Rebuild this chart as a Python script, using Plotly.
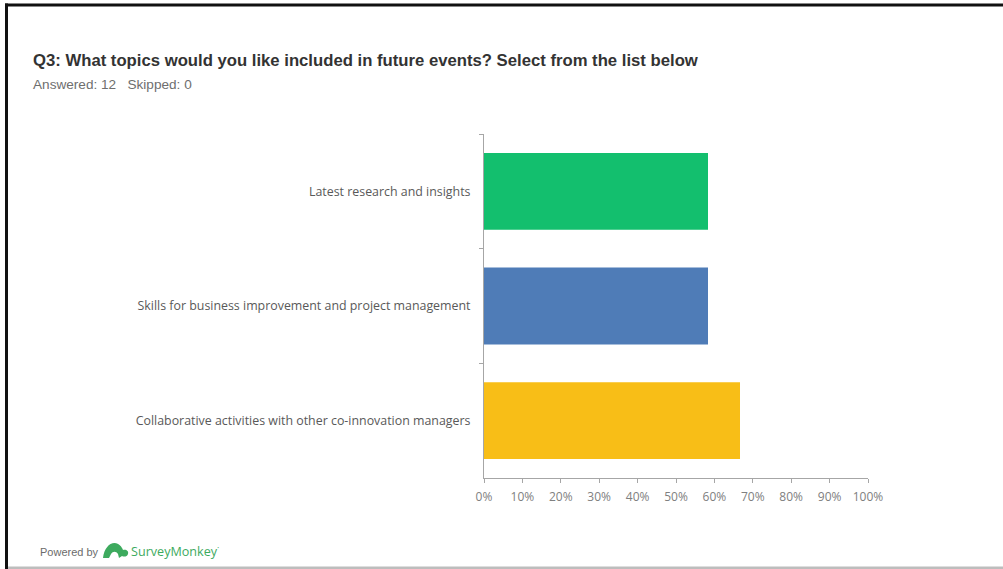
import plotly.graph_objects as go

# Survey question Q3 results
categories = [
    "Latest research and insights",
    "Skills for business improvement and project management",
    "Collaborative activities with other co-innovation managers",
]
responses = [7, 7, 8]
answered = 12
skipped = 0
bar_colors = ["#13BF6E", "#4F7CB7", "#F8BE17"]
x_ticks = [0, 10, 20, 30, 40, 50, 60, 70, 80, 90, 100]
x_tick_labels = [f"{v}%" for v in x_ticks]

percentages = [r / answered * 100 for r in responses]

W, H = 1003, 569
L, R, T, B = 484, 135, 134, 91
PW, PH = W - L - R, H - T - B


def px(x):
    return (x - L) / PW


def py(y):
    return (H - B - y) / PH


fig = go.Figure(
    go.Bar(
        x=percentages,
        y=categories,
        orientation="h",
        marker=dict(color=bar_colors, line=dict(width=0)),
        hoverinfo="x+y",
    )
)

fig.update_layout(
    width=W,
    height=H,
    margin=dict(l=L, r=R, t=T, b=B, pad=0),
    paper_bgcolor="white",
    plot_bgcolor="white",
    bargap=0.33,
    showlegend=False,
    xaxis=dict(
        range=[0, 100],
        tickmode="array",
        tickvals=x_ticks,
        ticktext=x_tick_labels,
        showgrid=False,
        zeroline=False,
        showline=True,
        linecolor="#A6A6A6",
        linewidth=1,
        ticks="outside",
        ticklen=4,
        tickcolor="#A6A6A6",
        tickfont=dict(family="Open Sans", size=12, color="#808080"),
        ticklabelstandoff=4,
        fixedrange=True,
    ),
    yaxis=dict(
        autorange="reversed",
        showgrid=False,
        zeroline=False,
        showline=True,
        linecolor="#A6A6A6",
        linewidth=1,
        ticks="outside",
        tickson="boundaries",
        ticklen=4,
        tickcolor="#A6A6A6",
        tickfont=dict(family="Open Sans", size=12.4, color="#595959"),
        ticklabelstandoff=10,
        fixedrange=True,
    ),
)

annotations = [
    dict(
        text="<b>Q3: What topics would you like included in future events? Select from the list below</b>",
        x=px(31), y=py(60), xanchor="left", yanchor="middle",
        font=dict(family="Liberation Sans", size=16.7, color="#333333"),
    ),
    dict(
        text=f"Answered: {answered}   Skipped: {skipped}",
        x=px(31), y=py(85), xanchor="left", yanchor="middle",
        font=dict(family="Liberation Sans", size=13.6, color="#6E6E6E"),
    ),
    dict(
        text="Powered by",
        x=px(38), y=py(552), xanchor="left", yanchor="middle",
        font=dict(family="Liberation Sans", size=11, color="#6B6B6B"),
    ),
    dict(
        text="SurveyMonkey<sup>·</sup>",
        x=px(129), y=py(551), xanchor="left", yanchor="middle",
        font=dict(family="Open Sans", size=12.6, color="#3DAA5E"),
    ),
]
for a in annotations:
    a.update(xref="paper", yref="paper", showarrow=False)
fig.update_layout(annotations=annotations)


def path_from(points):
    parts = []
    for cmd, coords in points:
        if coords:
            pts = " ".join(f"{px(x):.5f},{py(y):.5f}" for x, y in coords)
            parts.append(f"{cmd} {pts}")
        else:
            parts.append(cmd)
    return " ".join(parts)


# SurveyMonkey mark: a rounded arch with a small bump on the right
logo_path = path_from([
    ("M", [(103, 558)]),
    ("C", [(104, 549), (109, 543), (114.5, 543)]),
    ("C", [(119, 543), (122, 547), (123, 550)]),
    ("C", [(126, 549), (129, 551), (128, 554)]),
    ("C", [(127, 557), (124, 557), (122, 556)]),
    ("L", [(119, 558)]),
    ("L", [(118, 554)]),
    ("C", [(116, 551), (113, 551), (111, 554)]),
    ("L", [(109, 558)]),
    ("Z", []),
])

shapes = [
    # page frame: heavy black top and left edges, light bottom edge
    dict(type="rect", x0=px(5), x1=px(W), y0=py(3.5), y1=py(6.5),
         fillcolor="#111111", line=dict(width=0)),
    dict(type="rect", x0=px(5), x1=px(8), y0=py(3.5), y1=py(H),
         fillcolor="#111111", line=dict(width=0)),
    dict(type="rect", x0=px(8), x1=px(W), y0=py(566.5), y1=py(H),
         fillcolor="#BDBDBD", line=dict(width=0)),
    dict(type="path", path=logo_path, fillcolor="#3DAA5E", line=dict(width=0)),
]
for s in shapes:
    s.update(xref="paper", yref="paper", layer="above")
fig.update_layout(shapes=shapes)

fig.write_html("out.html", config=dict(displayModeBar=False))
